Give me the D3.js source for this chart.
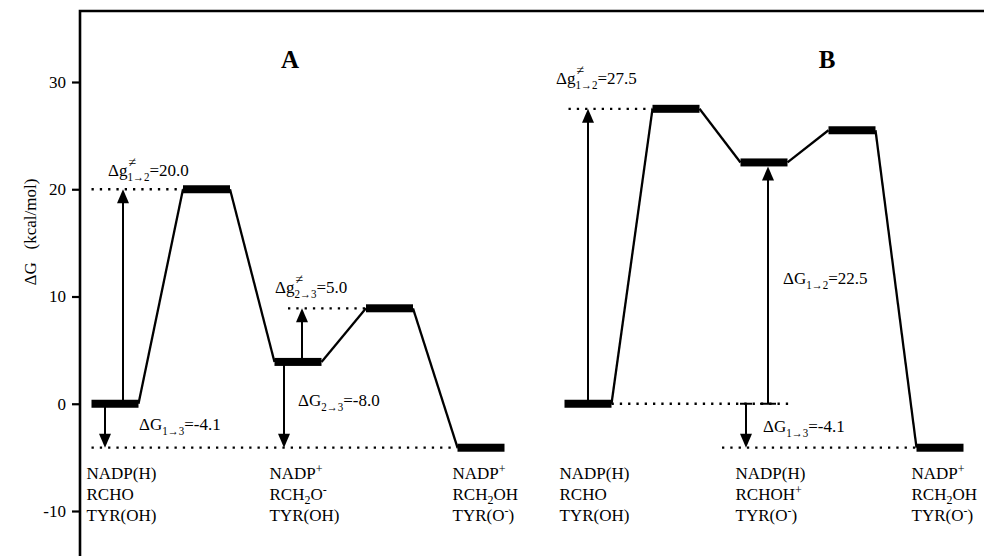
<!DOCTYPE html>
<html>
<head>
<meta charset="utf-8">
<script src="https://cdn.jsdelivr.net/npm/d3@7"></script>
<style>
  html, body { margin: 0; padding: 0; background: #fff; }
</style>
</head>
<body>
<svg id="chart" width="986" height="556"></svg>
<script>
// Free-energy levels (kcal/mol) of the five states along each pathway
const energiesA = [0, 20.0, 3.9, 8.9, -4.1];
const energiesB = [0, 27.5, 22.5, 25.5, -4.1];

// Axis ticks
const yTicks = [-10, 0, 10, 20, 30];

// Species present at each labelled minimum (^ = superscript, _ = subscript)
const speciesA = [
  ["NADP(H)", "RCHO", "TYR(OH)"],
  ["NADP^+", "RCH_2O^-", "TYR(OH)"],
  ["NADP^+", "RCH_2OH", "TYR(O^-)"]
];
const speciesB = [
  ["NADP(H)", "RCHO", "TYR(OH)"],
  ["NADP(H)", "RCHOH^+", "TYR(O^-)"],
  ["NADP^+", "RCH_2OH", "TYR(O^-)"]
];
const panelTitles = ["A", "B"];

const SERIF = "Liberation Serif";
const FS = 17;        // body text size
const svg = d3.select("#chart");
const loc = d3.formatLocale({ decimal: ".", thousands: ",", grouping: [3], currency: ["", ""], minus: "-" });
const fmt = loc.format(".1f");

const y = d3.scaleLinear().domain([-10, 30]).range([511, 82]);
const xA = d3.scalePoint().domain(d3.range(5)).range([115, 481]);
const xB = d3.scalePoint().domain(d3.range(5)).range([588, 940]);

const barW = 47, barH = 8;

// Frame: left axis and top rule
svg.append("path").attr("d", "M80,556 L80,11 L984,11")
  .attr("stroke", "#000").attr("stroke-width", 2.6).attr("fill", "none");

// Y axis ticks
const yAxis = d3.axisLeft(y).tickValues(yTicks).tickSize(8).tickPadding(6).tickFormat(loc.format("d"));
const ag = svg.append("g").attr("transform", "translate(80,0)").call(yAxis)
  .attr("font-size", FS).attr("font-family", null);
ag.select(".domain").remove();
ag.selectAll(".tick line").attr("stroke", "#000").attr("stroke-width", 2.2);
ag.selectAll(".tick text").attr("font-size", FS);

// Y axis title
svg.append("text")
  .attr("transform", "translate(36,232) rotate(-90)")
  .attr("text-anchor", "middle")
  .attr("font-size", FS)
  .style("white-space", "pre")
  .text("\u0394G   (kcal/mol)");

// Text with inline ^ / _ single-character sup/sub markup
function markupText(sel, str, size) {
  const re = /([\^_])(.)|([^\^_]+)/g;
  let m, shift = 0;
  while ((m = re.exec(str)) !== null) {
    if (m[3]) {
      sel.append("tspan").attr("font-size", size).attr("dy", -shift).text(m[3]);
      shift = 0;
    } else {
      const dy = m[1] === "^" ? -size * 0.38 : size * 0.26;
      sel.append("tspan").attr("font-size", 12).attr("dy", dy - shift).text(m[2]);
      shift = dy;
    }
  }
}

// Labels of the form  Δg^{≠}_{i→j}=v  drawn piecewise so sup and sub stack
function deltaLabel(x, yb, head, sup, sub, value) {
  const g = svg.append("g");
  const size = FS, small = 12;
  const t1 = g.append("text").attr("x", x).attr("y", yb).attr("font-size", size)
    .attr("font-family", SERIF).style("font-family", SERIF).text(head);
  let cx = x + t1.node().getComputedTextLength();
  let w = 22;
  if (sup) {
    const ts = g.append("text").attr("x", cx + 1).attr("y", yb - 9).attr("font-size", 14)
      .attr("font-family", SERIF).style("font-family", SERIF).text(sup);
    w = Math.max(w, ts.node().getComputedTextLength() + 1);
  }
  g.append("text").attr("x", cx).attr("y", yb + 5).attr("font-size", small)
    .attr("textLength", 22).attr("lengthAdjust", "spacingAndGlyphs").text(sub);
  cx += w;
  g.append("text").attr("x", cx).attr("y", yb).attr("font-size", size).text("=" + fmt(value));
}

function arrow(g, x, y0, y1) {
  // shaft from y0 to y1 with filled head at y1
  const dir = y1 < y0 ? -1 : 1;
  const hl = 14, hw = 6;
  g.append("line").attr("x1", x).attr("x2", x).attr("y1", y0).attr("y2", y1 - dir * hl + dir)
    .attr("stroke", "#000").attr("stroke-width", 2);
  g.append("path")
    .attr("d", `M${x},${y1} L${x - hw},${y1 - dir * hl} L${x + hw},${y1 - dir * hl} Z`)
    .attr("fill", "#000");
}

function dotted(g, x1, x2, yy) {
  g.append("line").attr("x1", x1).attr("x2", x2).attr("y1", yy).attr("y2", yy)
    .attr("stroke", "#000").attr("stroke-width", 2.3)
    .attr("stroke-dasharray", "2.3,6").attr("stroke-linecap", "butt");
}

function profile(energies, x) {
  const g = svg.append("g");
  // connecting lines between level ends
  for (let i = 0; i < energies.length - 1; i++) {
    g.append("line")
      .attr("x1", x(i) + barW / 2).attr("y1", y(energies[i]))
      .attr("x2", x(i + 1) - barW / 2).attr("y2", y(energies[i + 1]))
      .attr("stroke", "#000").attr("stroke-width", 2.3);
  }
  // level bars
  g.selectAll("rect.level").data(energies).join("rect")
    .attr("class", "level")
    .attr("x", (d, i) => x(i) - barW / 2)
    .attr("y", d => y(d) - barH / 2)
    .attr("width", barW).attr("height", barH)
    .attr("fill", "#000");
  return g;
}

function speciesLabels(list, idx, x, leftMin) {
  list.forEach((lines, k) => {
    const xl = Math.max(leftMin || 0, x(idx[k]) - barW / 2 - 5);
    lines.forEach((ln, j) => {
      const t = svg.append("text").attr("x", xl).attr("y", 479 + j * 21).attr("font-size", FS);
      markupText(t, ln, FS);
    });
  });
}

// ---------- Panel A ----------
const gA = profile(energiesA, xA);
const eA = energiesA;
dotted(gA, xA(0) - barW / 2, xA(1) - barW / 2, y(eA[1]));
dotted(gA, xA(2) - 10, xA(3) - barW / 2, y(eA[3]));
dotted(gA, xA(0) - barW / 2, xA(4) - barW / 2, y(eA[4]));
arrow(gA, xA(0) + 8, y(eA[0]), y(eA[1]));
arrow(gA, xA(0) - 10, y(eA[0]), y(eA[4]));
arrow(gA, xA(2) + 4, y(eA[2]) - barH / 2, y(eA[3]));
arrow(gA, xA(2) - 14, y(eA[2]), y(eA[4]));
deltaLabel(xA(0) - 7, 176, "\u0394g", "\u2260", "1\u21922", eA[1] - eA[0]);
deltaLabel(xA(2) - 23, 293, "\u0394g", "\u2260", "2\u21923", eA[3] - eA[2]);
deltaLabel(xA(2), 406, "\u0394G", null, "2\u21923", eA[4] - eA[2]);
deltaLabel(xA(0) + 24, 430, "\u0394G", null, "1\u21923", eA[4] - eA[0]);
svg.append("text").attr("x", xA(2) - 8).attr("y", 68).attr("text-anchor", "middle")
  .attr("font-size", 25).attr("font-weight", "bold").text(panelTitles[0]);
speciesLabels(speciesA, [0, 2, 4], xA, 82);

// ---------- Panel B ----------
const gB = profile(energiesB, xB);
const eB = energiesB;
dotted(gB, xB(0) - barW / 2 + 4, xB(1) - barW / 2, y(eB[1]));
dotted(gB, xB(0) + barW / 2, xB(2) + 30, y(eB[0]));
dotted(gB, xB(2) - 42, xB(4) - barW / 2, y(eB[4]));
arrow(gB, xB(0), y(eB[0]), y(eB[1]));
arrow(gB, xB(2) + 4, y(eB[0]), y(eB[2]) + barH / 2);
gB.append("line").attr("x1", xB(2) - 4).attr("x2", xB(2) + 12).attr("y1", y(eB[0])).attr("y2", y(eB[0]))
  .attr("stroke", "#000").attr("stroke-width", 2);
arrow(gB, xB(2) - 18, y(eB[0]), y(eB[4]));
gB.append("line").attr("x1", xB(2) - 24).attr("x2", xB(2) - 12).attr("y1", y(eB[0])).attr("y2", y(eB[0]))
  .attr("stroke", "#000").attr("stroke-width", 2);
deltaLabel(xB(0) - 32, 84, "\u0394g", "\u2260", "1\u21922", eB[1] - eB[0]);
deltaLabel(xB(2) + 19, 284, "\u0394G", null, "1\u21922", eB[2] - eB[0]);
deltaLabel(xB(2) - 1, 432, "\u0394G", null, "1\u21923", eB[4] - eB[0]);
svg.append("text").attr("x", xB(2) + 63).attr("y", 68).attr("text-anchor", "middle")
  .attr("font-size", 25).attr("font-weight", "bold").text(panelTitles[1]);
speciesLabels(speciesB, [0, 2, 4], xB);

// Serif face for every text and tspan element
svg.selectAll("text, tspan").attr("font-family", SERIF).style("font-family", SERIF).attr("fill", "#000");
</script>
</body>
</html>
